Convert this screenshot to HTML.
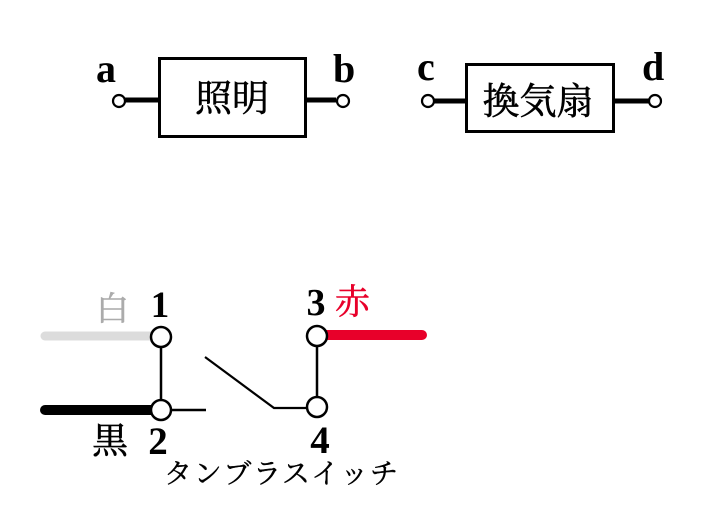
<!DOCTYPE html>
<html>
<head>
<meta charset="utf-8">
<style>
  html, body { margin: 0; padding: 0; background: #fff; }
  svg { display: block; }
  .lat { font-family: "Liberation Serif", "Noto Serif CJK SC", serif; font-weight: bold; }
  .cjk { font-family: "Liberation Serif", "Noto Serif CJK SC", serif; font-weight: normal; stroke-width: 0.6; }
  .kata { font-family: "Liberation Serif", "Noto Serif CJK SC", serif; font-weight: normal; stroke-width: 0.4; }
</style>
</head>
<body>
<svg width="703" height="530" viewBox="0 0 703 530" xmlns="http://www.w3.org/2000/svg">
  <rect width="703" height="530" fill="#fff"/>

  <!-- Top left: 照明 -->
  <rect x="159.5" y="58.5" width="146" height="78" fill="none" stroke="#000" stroke-width="3"/>
  <line x1="125" y1="100" x2="159" y2="100" stroke="#000" stroke-width="5"/>
  <line x1="306" y1="100" x2="336" y2="100" stroke="#000" stroke-width="5"/>
  <circle cx="119" cy="101" r="6" fill="#fff" stroke="#000" stroke-width="2.2"/>
  <circle cx="343" cy="101" r="6" fill="#fff" stroke="#000" stroke-width="2.2"/>
  <text class="lat" x="96" y="82" font-size="40">a</text>
  <text class="lat" x="333" y="82" font-size="40">b</text>
  <text class="cjk" x="232" y="111" font-size="37" text-anchor="middle" fill="#000" stroke="#000">照明</text>

  <!-- Top right: 換気扇 -->
  <rect x="466.5" y="64.5" width="147" height="67" fill="none" stroke="#000" stroke-width="3"/>
  <line x1="434" y1="101" x2="466" y2="101" stroke="#000" stroke-width="5"/>
  <line x1="614" y1="101" x2="649" y2="101" stroke="#000" stroke-width="5"/>
  <circle cx="428" cy="101" r="6" fill="#fff" stroke="#000" stroke-width="2.2"/>
  <circle cx="655" cy="101" r="6" fill="#fff" stroke="#000" stroke-width="2.2"/>
  <text class="lat" x="417" y="80" font-size="40">c</text>
  <text class="lat" x="642" y="80" font-size="40">d</text>
  <text class="cjk" x="538" y="114" font-size="37" text-anchor="middle" fill="#000" stroke="#000">換気扇</text>

  <!-- Switch wires -->
  <line x1="45" y1="336" x2="152" y2="336" stroke="#dcdcdc" stroke-width="9" stroke-linecap="round"/>
  <line x1="45" y1="410" x2="152" y2="410" stroke="#000" stroke-width="10" stroke-linecap="round"/>
  <line x1="326" y1="335" x2="422" y2="335" stroke="#e8002a" stroke-width="10" stroke-linecap="round"/>

  <!-- Switch body lines -->
  <line x1="161" y1="337" x2="161" y2="410" stroke="#000" stroke-width="2.5"/>
  <line x1="161" y1="410" x2="206" y2="410" stroke="#000" stroke-width="2.5"/>
  <polyline points="205,357 274,408 317,408" fill="none" stroke="#000" stroke-width="2.2"/>
  <line x1="317" y1="337" x2="317" y2="408" stroke="#000" stroke-width="2.5"/>

  <!-- Terminals -->
  <circle cx="161" cy="337" r="10" fill="#fff" stroke="#000" stroke-width="2.5"/>
  <circle cx="161" cy="410" r="10" fill="#fff" stroke="#000" stroke-width="2.5"/>
  <circle cx="317" cy="336" r="10" fill="#fff" stroke="#000" stroke-width="2.5"/>
  <circle cx="317" cy="407" r="10" fill="#fff" stroke="#000" stroke-width="2.5"/>

  <!-- Labels -->
  <text class="lat" x="160" y="317" font-size="37" text-anchor="middle">1</text>
  <text class="lat" x="158" y="454" font-size="39" text-anchor="middle">2</text>
  <text class="lat" x="316" y="315" font-size="38" text-anchor="middle">3</text>
  <text class="lat" x="320" y="453" font-size="39" text-anchor="middle">4</text>

  <text class="cjk" x="112.5" y="320" font-size="33" fill="#ababab" stroke="#ababab" text-anchor="middle">白</text>
  <text class="cjk" x="110" y="453" font-size="36" fill="#000" stroke="#000" text-anchor="middle">黒</text>
  <text class="cjk" x="352.5" y="314" font-size="35" fill="#e8002a" stroke="#e8002a" text-anchor="middle">赤</text>

  <text class="kata" x="164" y="483" font-size="28" textLength="234" lengthAdjust="spacing" fill="#000" stroke="#000">タンブラスイッチ</text>
</svg>
</body>
</html>
